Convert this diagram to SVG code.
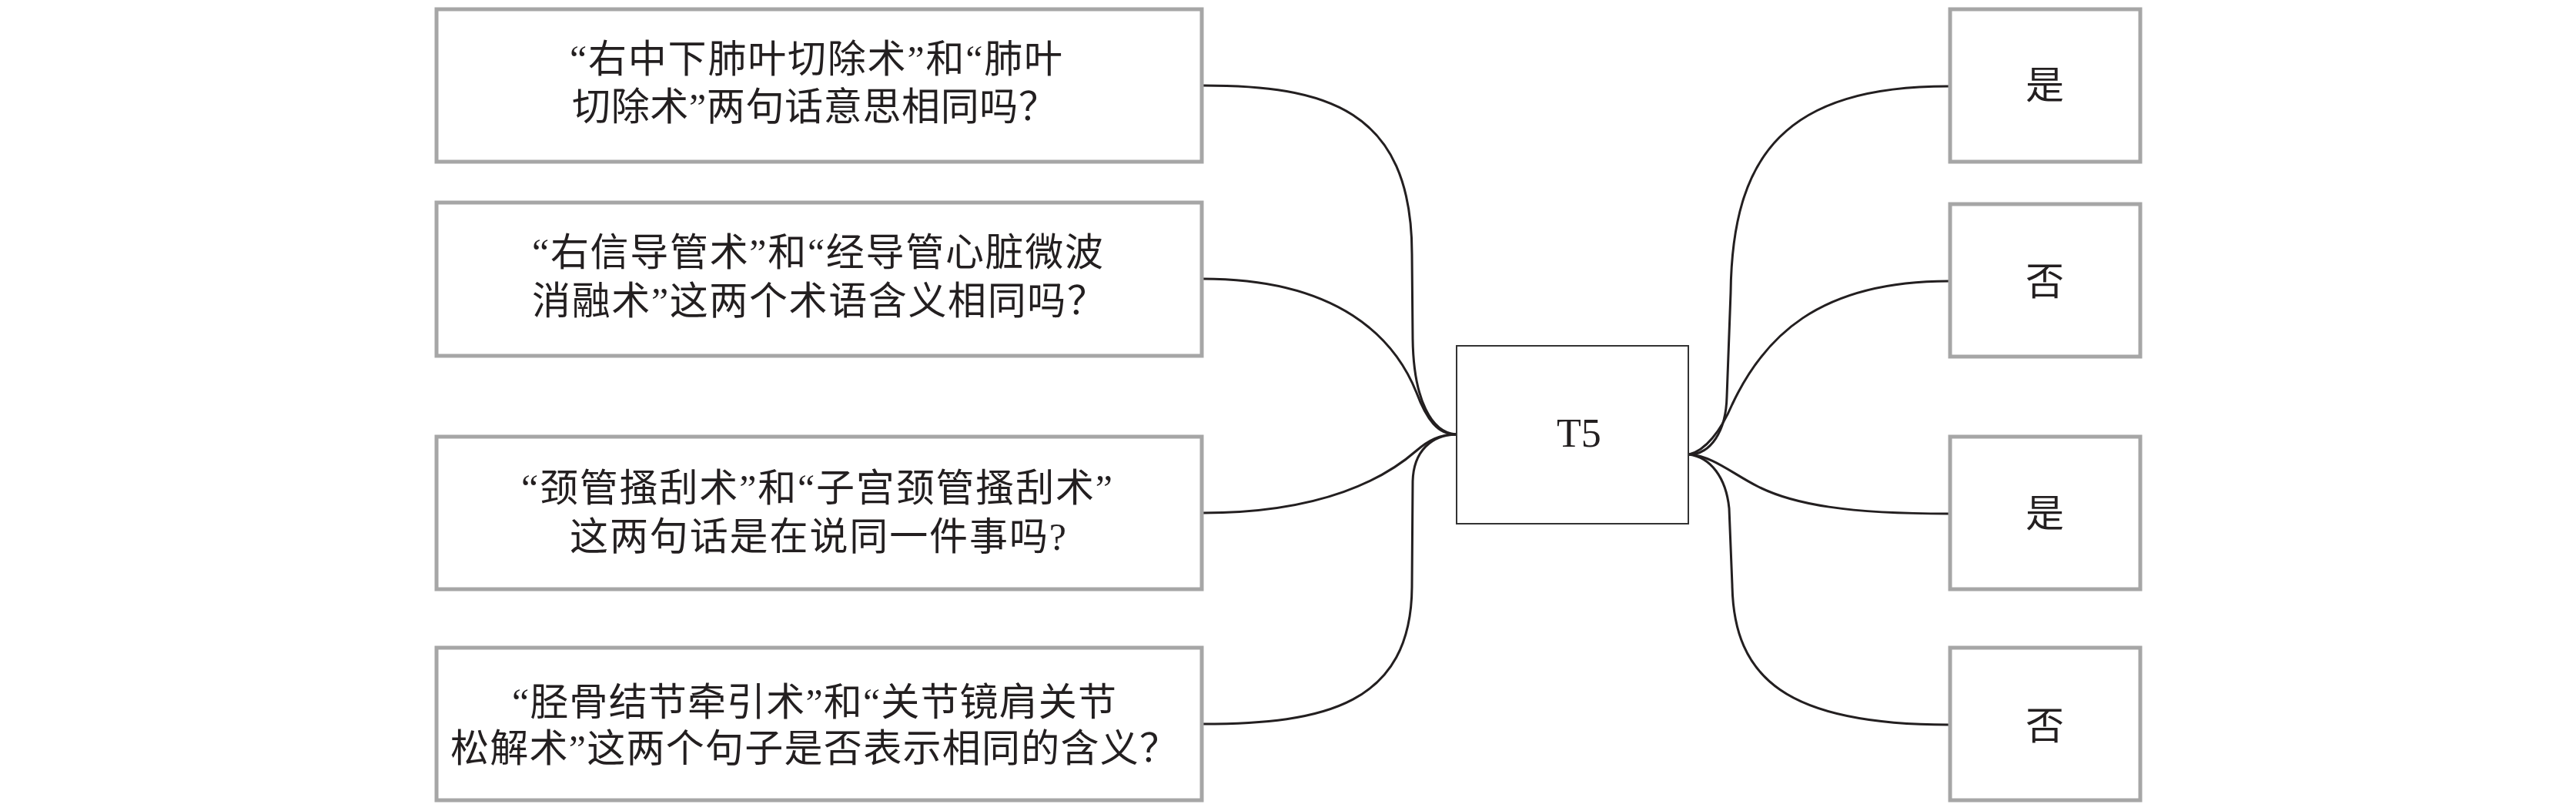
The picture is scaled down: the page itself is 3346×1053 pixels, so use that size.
<svg xmlns="http://www.w3.org/2000/svg" width="3346" height="1053" viewBox="0 0 3346 1053">
<style>
.q{fill:#fff;stroke:#a6a6a6;stroke-width:5}
.c{fill:#fff;stroke:#333;stroke-width:2}
.t{font-family:"Liberation Serif","Noto Sans CJK SC",serif;font-size:50px;fill:#231f20}
.tc{font-family:"Liberation Serif","Noto Sans CJK SC",serif;font-size:50px;fill:#231f20;text-anchor:middle}
.e{fill:none;stroke:#231f20;stroke-width:3}
</style>
<rect width="3346" height="1053" fill="#fff"/>
<g id="connectors">
<path class="e" d="M1562,111 C1720,111 1834,140 1834,330 L1835,440 C1836,520 1860,562 1891,564"/>
<path class="e" d="M1562,362 C1740,362 1812,440 1840,510 C1853,545 1868,564 1891,564"/>
<path class="e" d="M1562,666 C1720,666 1800,620 1840,585 C1855,572 1870,564 1891,564"/>
<path class="e" d="M1562,940 C1720,940 1834,915 1834,760 L1835,625 C1836,585 1860,565 1891,564"/>
<path class="e" d="M2194,590 C2222,590 2242,560 2243,515 L2248,380 C2250,200 2320,112 2531,112"/>
<path class="e" d="M2194,590 C2215,585 2235,560 2250,525 C2290,440 2360,365 2531,365"/>
<path class="e" d="M2194,590 C2225,592 2250,615 2284,632 C2330,655 2400,667 2531,667"/>
<path class="e" d="M2194,590 C2222,594 2242,620 2246,660 L2250,760 C2252,880 2320,941 2531,941"/>
</g>
<g id="q1">
<rect class="q" x="567" y="12" width="994" height="198"/>
<text class="t" x="740" y="94" textLength="640" lengthAdjust="spacing">“右中下肺叶切除术”和“肺叶</text>
<text class="t" x="743" y="156" textLength="630" lengthAdjust="spacing">切除术”两句话意思相同吗？</text>
</g>
<g id="q2">
<rect class="q" x="567" y="263" width="994" height="199"/>
<text class="t" x="691" y="345" textLength="742" lengthAdjust="spacing">“右信导管术”和“经导管心脏微波</text>
<text class="t" x="691" y="408" textLength="745" lengthAdjust="spacing">消融术”这两个术语含义相同吗？</text>
</g>
<g id="q3">
<rect class="q" x="567" y="567" width="994" height="198"/>
<text class="t" x="677" y="651" textLength="768" lengthAdjust="spacing">“颈管搔刮术”和“子宫颈管搔刮术”</text>
<text class="t" x="740" y="714" textLength="645" lengthAdjust="spacing">这两句话是在说同一件事吗?</text>
</g>
<g id="q4">
<rect class="q" x="567" y="841" width="994" height="198"/>
<text class="t" x="665" y="929" textLength="785" lengthAdjust="spacing">“胫骨结节牵引术”和“关节镜肩关节</text>
<text class="t" x="585" y="989" textLength="945" lengthAdjust="spacing">松解术”这两个句子是否表示相同的含义？</text>
</g>
<g id="t5">
<rect class="c" x="1892" y="449" width="301" height="231"/>
<text class="tc" x="2051" y="580" style="font-size:52px">T5</text>
</g>
<g id="a1">
<rect class="q" x="2533" y="12" width="247" height="198"/>
<text class="tc" x="2656" y="128">是</text>
</g>
<g id="a2">
<rect class="q" x="2533" y="265" width="247" height="198"/>
<text class="tc" x="2656" y="383">否</text>
</g>
<g id="a3">
<rect class="q" x="2533" y="567" width="247" height="198"/>
<text class="tc" x="2656" y="684">是</text>
</g>
<g id="a4">
<rect class="q" x="2533" y="841" width="247" height="198"/>
<text class="tc" x="2656" y="960">否</text>
</g>
</svg>
